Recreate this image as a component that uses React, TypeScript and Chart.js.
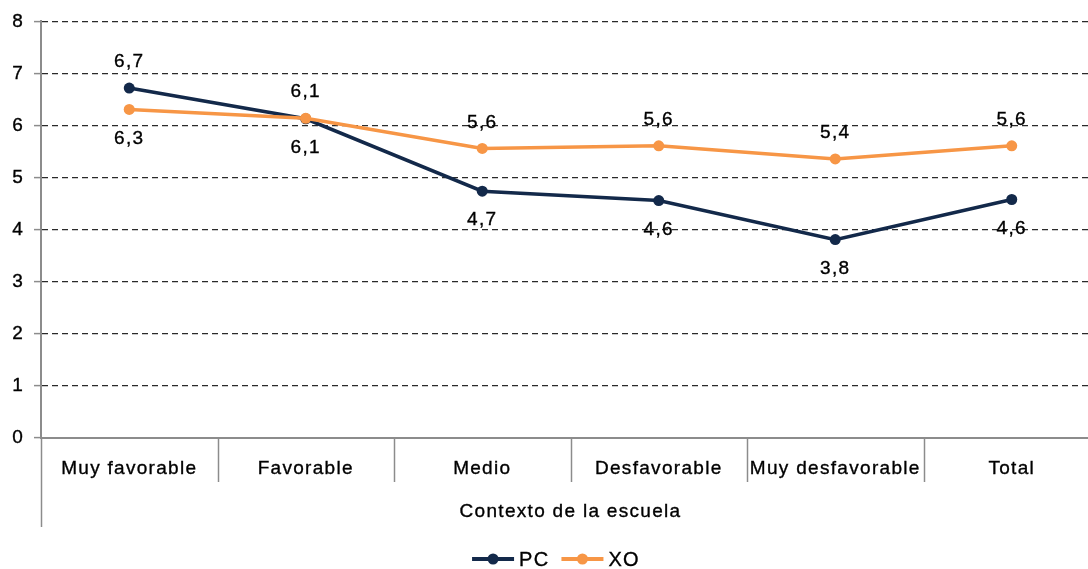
import React, { useEffect, useRef } from "react";
import { Chart, registerables } from "chart.js";

Chart.register(...registerables);

const CATEGORIES = ["Muy favorable", "Favorable", "Medio", "Desfavorable", "Muy desfavorable", "Total"];
const PC_VALUES = [6.72, 6.13, 4.74, 4.56, 3.81, 4.58];
const XO_VALUES = [6.31, 6.14, 5.56, 5.61, 5.36, 5.61];
const PC_LABEL_POS = ["above", "below", "below", "below", "below", "below"];
const XO_LABEL_POS = ["below", "above", "above", "above", "above", "above"];
const Y_MIN = 0;
const Y_MAX = 8;
const AXIS_TITLE = "Contexto de la escuela";

const NAVY = "#13294a";
const ORANGE = "#f79646";
const AXIS_GREY = "#8c8c8c";
const FONT_FAMILY = "'Liberation Sans', Arial, sans-serif";
const SPACING = "1.3px";
const FONT_SIZE = 19;
const TEXT_STROKE = 0.35;

const fmt = (v: number) => v.toFixed(1).replace(".", ",");

const spacingPlugin = {
  id: "spacing",
  beforeUpdate(chart: any) {
    chart.ctx.letterSpacing = SPACING;
  },
  beforeDraw(chart: any) {
    chart.ctx.letterSpacing = SPACING;
  },
};

function drawText(ctx: any, text: string, x: number, y: number) {
  ctx.fillText(text, x, y);
  ctx.strokeText(text, x, y);
}

const extrasPlugin = {
  id: "extras",
  afterDraw(chart: any) {
    const ctx = chart.ctx;
    const area = chart.chartArea;
    const n = CATEGORIES.length;
    const w = (area.right - area.left) / n;
    ctx.save();
    ctx.letterSpacing = SPACING;
    // category separators
    ctx.strokeStyle = AXIS_GREY;
    ctx.lineWidth = 1.5;
    for (let i = 0; i <= n; i++) {
      const x = Math.round(area.left + i * w) + 0.5;
      ctx.beginPath();
      ctx.moveTo(x, area.bottom);
      ctx.lineTo(x, i === 0 ? area.bottom + 89 : area.bottom + 44);
      ctx.stroke();
    }
    // axis title
    ctx.fillStyle = "#000";
    ctx.strokeStyle = "#000";
    ctx.lineWidth = TEXT_STROKE;
    ctx.font = `${FONT_SIZE}px ${FONT_FAMILY}`;
    ctx.textAlign = "center";
    ctx.textBaseline = "middle";
    drawText(ctx, AXIS_TITLE, (area.left + area.right) / 2, 512);

    // data labels
    const sets = [
      { idx: 0, vals: PC_VALUES, pos: PC_LABEL_POS },
      { idx: 1, vals: XO_VALUES, pos: XO_LABEL_POS },
    ];
    for (const s of sets) {
      const meta = chart.getDatasetMeta(s.idx);
      meta.data.forEach((pt: any, i: number) => {
        const dy = s.pos[i] === "above" ? -26 : 29;
        drawText(ctx, fmt(s.vals[i]), pt.x, pt.y + dy);
      });
    }

    // legend
    ctx.font = `20px ${FONT_FAMILY}`;
    ctx.textAlign = "left";
    const items = chart.data.datasets.map((d: any) => ({
      label: d.label,
      color: d.borderColor,
      tw: ctx.measureText(d.label).width,
    }));
    const lineW = 42;
    const gap = 5;
    const itemGap = 12;
    let total = 0;
    items.forEach((it: any, i: number) => {
      total += lineW + gap + it.tw + (i > 0 ? itemGap : 0);
    });
    let x = chart.width / 2 - total / 2;
    const y = 559;
    items.forEach((it: any) => {
      ctx.strokeStyle = it.color;
      ctx.lineWidth = 4;
      ctx.beginPath();
      ctx.moveTo(x, y);
      ctx.lineTo(x + lineW, y);
      ctx.stroke();
      ctx.fillStyle = it.color;
      ctx.beginPath();
      ctx.arc(x + lineW / 2, y, 5.5, 0, Math.PI * 2);
      ctx.fill();
      ctx.fillStyle = "#000";
      ctx.strokeStyle = "#000";
      ctx.lineWidth = TEXT_STROKE;
      drawText(ctx, it.label, x + lineW + gap, y + 1);
      x += lineW + gap + it.tw + itemGap;
    });
    ctx.restore();
  },
};

export default function App() {
  const ref = useRef<HTMLCanvasElement | null>(null);
  useEffect(() => {
    if (!ref.current) return;
    const chart = new Chart(ref.current, {
      type: "line",
      data: {
        labels: CATEGORIES,
        datasets: [
          {
            label: "PC",
            data: PC_VALUES,
            borderColor: NAVY,
            backgroundColor: NAVY,
            borderWidth: 3.5,
            pointRadius: 5.5,
            pointBorderWidth: 0,
            pointBackgroundColor: NAVY,
            tension: 0,
            order: 1,
          },
          {
            label: "XO",
            data: XO_VALUES,
            borderColor: ORANGE,
            backgroundColor: ORANGE,
            borderWidth: 3.5,
            pointRadius: 5.5,
            pointBorderWidth: 0,
            pointBackgroundColor: ORANGE,
            tension: 0,
            order: 0,
          },
        ],
      },
      options: {
        responsive: false,
        animation: false,
        layout: { padding: { left: 0, right: 12, top: 19, bottom: 0 } },
        plugins: {
          legend: { display: false },
          tooltip: { enabled: false },
          title: { display: false },
        },
        scales: {
          x: {
            offset: true,
            grid: { display: false, drawTicks: false },
            border: { display: true, color: AXIS_GREY, width: 2 },
            ticks: {
              color: "#000",
              font: { family: FONT_FAMILY, size: FONT_SIZE },
              padding: 19,
              maxRotation: 0,
              autoSkip: false,
              textStrokeWidth: TEXT_STROKE,
              textStrokeColor: "#000",
            },
            afterFit(scale: any) {
              scale.height = 131;
            },
          },
          y: {
            min: Y_MIN,
            max: Y_MAX,
            ticks: {
              stepSize: 1,
              color: "#000",
              font: { family: FONT_FAMILY, size: FONT_SIZE },
              padding: 10,
              textStrokeWidth: TEXT_STROKE,
              textStrokeColor: "#000",
            },
            grid: {
              color: (c: any) => (c.tick && c.tick.value === 0 ? "rgba(0,0,0,0)" : "#2a2a2a"),
              lineWidth: 1.2,
              tickColor: AXIS_GREY,
              tickLength: 7,
              tickWidth: 1.5,
              tickBorderDash: [],
            },
            border: { display: true, color: AXIS_GREY, width: 2, dash: [6, 4] },
            afterFit(scale: any) {
              scale.width = 41;
            },
          },
        },
      },
      plugins: [spacingPlugin, extrasPlugin],
    } as any);
    return () => chart.destroy();
  }, []);
  return (
    <div style={{ position: "fixed", left: 0, top: 0, width: 1088, height: 569, overflow: "hidden", background: "#fff" }}>
      <canvas ref={ref} width={1112} height={569} style={{ width: 1112, height: 569, display: "block" }} />
    </div>
  );
}
